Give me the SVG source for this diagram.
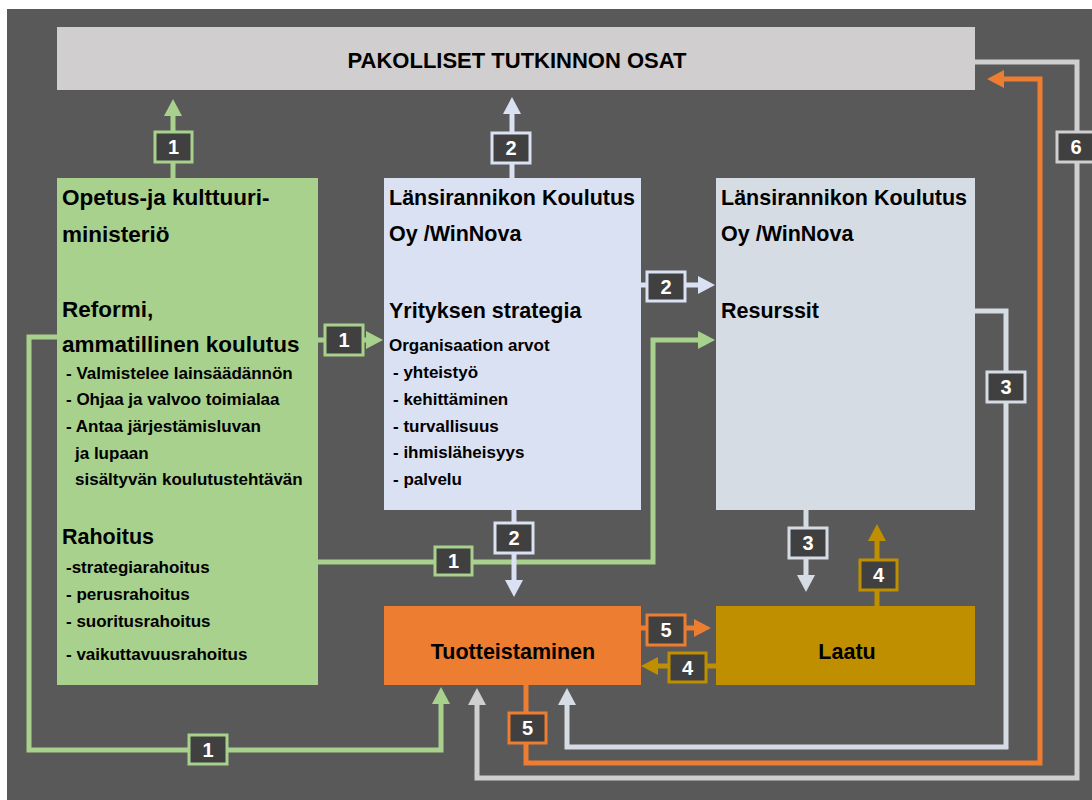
<svg xmlns="http://www.w3.org/2000/svg" width="1092" height="800" viewBox="0 0 1092 800">
<style>
text{font-family:"Liberation Sans",Arial,sans-serif;font-weight:bold;fill:#000}
.h{font-size:21.5px}
.hg{font-size:22.5px}
.s{font-size:17px}
.c{text-anchor:middle}
.ln{fill:none;stroke-width:5;stroke-linejoin:miter}
.g{stroke:#a9d18e}
.b{stroke:#dae1f3}
.r{stroke:#d6dce4}
.y{stroke:#bf8f00}
.o{stroke:#ed7d31}
.k{stroke:#d0cece}
.bd rect{fill:#404040;stroke-width:3}
.bd text{fill:#fff;font-size:20px;text-anchor:middle}
</style>
<defs>
<marker id="ag" markerUnits="userSpaceOnUse" markerWidth="18" markerHeight="18" refX="1" refY="9" orient="auto"><path d="M0,0 L17,9 L0,18 z" fill="#a9d18e"/></marker>
<marker id="ab" markerUnits="userSpaceOnUse" markerWidth="18" markerHeight="18" refX="1" refY="9" orient="auto"><path d="M0,0 L17,9 L0,18 z" fill="#dae1f3"/></marker>
<marker id="ar" markerUnits="userSpaceOnUse" markerWidth="18" markerHeight="18" refX="1" refY="9" orient="auto"><path d="M0,0 L17,9 L0,18 z" fill="#d6dce4"/></marker>
<marker id="ay" markerUnits="userSpaceOnUse" markerWidth="18" markerHeight="18" refX="1" refY="9" orient="auto"><path d="M0,0 L17,9 L0,18 z" fill="#bf8f00"/></marker>
<marker id="ao" markerUnits="userSpaceOnUse" markerWidth="18" markerHeight="18" refX="1" refY="9" orient="auto"><path d="M0,0 L17,9 L0,18 z" fill="#ed7d31"/></marker>
<marker id="ak" markerUnits="userSpaceOnUse" markerWidth="18" markerHeight="18" refX="1" refY="9" orient="auto"><path d="M0,0 L17,9 L0,18 z" fill="#d0cece"/></marker>
</defs>
<rect x="7" y="9" width="1085" height="791" fill="#595959"/>

<g id="connectors">
<path class="ln g" d="M173,178 V115" marker-end="url(#ag)"/>
<path class="ln g" d="M318,340 H367" marker-end="url(#ag)"/>
<path class="ln g" d="M318,562 H653 V340 H699" marker-end="url(#ag)"/>
<path class="ln g" d="M57,337 H29 V750 H441 V703" marker-end="url(#ag)"/>
<path class="ln b" d="M512,178 V113" marker-end="url(#ab)"/>
<path class="ln b" d="M641,285 H699" marker-end="url(#ab)"/>
<path class="ln b" d="M514,510 V581" marker-end="url(#ab)"/>
<path class="ln r" d="M975,311 H1006 V747 H567 V704" marker-end="url(#ar)"/>
<path class="ln r" d="M806,510 V576" marker-end="url(#ar)"/>
<path class="ln y" d="M877,606 V540" marker-end="url(#ay)"/>
<path class="ln y" d="M716,666 H657" marker-end="url(#ay)"/>
<path class="ln o" d="M641,628 H695" marker-end="url(#ao)"/>
<path class="ln o" d="M526,685 V763 H1040 V79 H1003" marker-end="url(#ao)"/>
<path class="ln k" d="M975,62 H1077 V778 H477 V704" marker-end="url(#ak)"/>
<g class="bd">
<g><rect x="155" y="132" width="37" height="30" stroke="#a9d18e"/><text x="173.5" y="154">1</text></g>
<g><rect x="325" y="325" width="38" height="30" stroke="#a9d18e"/><text x="344" y="347">1</text></g>
<g><rect x="435" y="547" width="37" height="28" stroke="#a9d18e"/><text x="453.5" y="568">1</text></g>
<g><rect x="189" y="735" width="38" height="29" stroke="#a9d18e"/><text x="208" y="757">1</text></g>
<g><rect x="492" y="133" width="38" height="30" stroke="#dae1f3"/><text x="511" y="155">2</text></g>
<g><rect x="647" y="272" width="38" height="29" stroke="#dae1f3"/><text x="666" y="294">2</text></g>
<g><rect x="495" y="523" width="38" height="30" stroke="#dae1f3"/><text x="514" y="545">2</text></g>
<g><rect x="987" y="372" width="38" height="30" stroke="#d6dce4"/><text x="1006" y="394">3</text></g>
<g><rect x="789" y="528" width="38" height="30" stroke="#d6dce4"/><text x="808" y="550">3</text></g>
<g><rect x="860" y="560" width="37" height="30" stroke="#bf8f00"/><text x="878.5" y="582">4</text></g>
<g><rect x="669" y="653" width="37" height="29" stroke="#bf8f00"/><text x="687.5" y="675">4</text></g>
<g><rect x="647" y="615" width="38" height="30" stroke="#ed7d31"/><text x="666" y="637">5</text></g>
<g><rect x="509" y="713" width="37" height="30" stroke="#ed7d31"/><text x="527.5" y="735">5</text></g>
<g><rect x="1057" y="132" width="38" height="30" stroke="#d0cece"/><text x="1076" y="154">6</text></g>
</g>
</g>

<g id="pakolliset">
<rect x="57" y="27" width="918" height="63" fill="#d0cecf"/>
<text class="c" x="517" y="68" font-size="22">PAKOLLISET TUTKINNON OSAT</text>
</g>

<g id="ministerio">
<rect x="57" y="178" width="261" height="507" fill="#a9d18e"/>
<text class="hg" x="62" y="205">Opetus-ja kulttuuri-</text>
<text class="hg" x="62" y="242">ministeriö</text>
<text class="hg" x="62" y="317">Reformi,</text>
<text class="hg" x="62" y="352">ammatillinen koulutus</text>
<text class="s" x="66" y="379">- Valmistelee lainsäädännön</text>
<text class="s" x="66" y="405">- Ohjaa ja valvoo toimialaa</text>
<text class="s" x="66" y="432">- Antaa järjestämisluvan</text>
<text class="s" x="75" y="459">ja lupaan</text>
<text class="s" x="75" y="485">sisältyvän koulutustehtävän</text>
<text class="h" x="62" y="544">Rahoitus</text>
<text class="s" x="66" y="573">-strategiarahoitus</text>
<text class="s" x="66" y="600">- perusrahoitus</text>
<text class="s" x="66" y="627">- suoritusrahoitus</text>
<text class="s" x="66" y="660">- vaikuttavuusrahoitus</text>
</g>

<g id="strategia">
<rect x="384" y="178" width="257" height="332" fill="#dae1f3"/>
<text class="h" x="389" y="205">Länsirannikon Koulutus</text>
<text class="h" x="389" y="241">Oy /WinNova</text>
<text class="h" x="389" y="318">Yrityksen strategia</text>
<text class="s" x="389" y="351">Organisaation arvot</text>
<text class="s" x="393" y="378">- yhteistyö</text>
<text class="s" x="393" y="405">- kehittäminen</text>
<text class="s" x="393" y="432">- turvallisuus</text>
<text class="s" x="393" y="458">- ihmisläheisyys</text>
<text class="s" x="393" y="485">- palvelu</text>
</g>

<g id="resurssit">
<rect x="716" y="178" width="259" height="332" fill="#d6dce4"/>
<text class="h" x="721" y="205">Länsirannikon Koulutus</text>
<text class="h" x="721" y="241">Oy /WinNova</text>
<text class="h" x="721" y="318">Resurssit</text>
</g>

<g id="tuotteistaminen">
<rect x="384" y="606" width="257" height="79" fill="#ed7d31"/>
<text class="h c" x="513" y="659">Tuotteistaminen</text>
</g>

<g id="laatu">
<rect x="716" y="606" width="259" height="79" fill="#bf8f00"/>
<text class="h c" x="847" y="659">Laatu</text>
</g>
</svg>
